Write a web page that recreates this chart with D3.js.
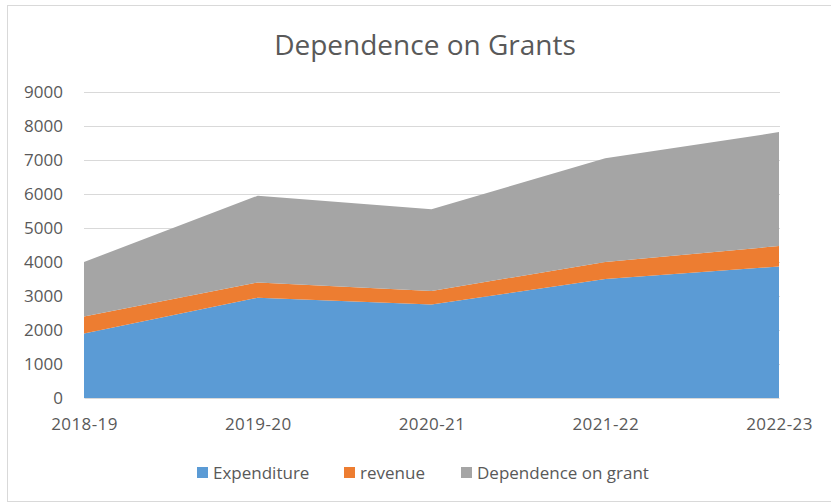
<!DOCTYPE html>
<html>
<head>
<meta charset="utf-8">
<script src="https://cdn.jsdelivr.net/npm/d3@7/dist/d3.min.js"></script>
<style>
  html, body { margin: 0; padding: 0; background: #fff; }
  svg { display: block; }
  text { font-family: "Open Sans", "Liberation Sans", sans-serif; fill: #595959; }
</style>
</head>
<body>
<svg id="chart" width="831" height="504"></svg>
<script>
// Fiscal years on the category axis
const years = ["2018-19", "2019-20", "2020-21", "2021-22", "2022-23"];

// Stacked series values
const expenditure = [1900, 2950, 2750, 3500, 3870];
const revenue = [500, 450, 400, 500, 600];
const grantDependence = [1600, 2550, 2400, 3050, 3350];

// Series names and legend labels
const seriesKeys = ["expenditure", "revenue", "grant"];
const seriesLabels = ["Expenditure", "revenue", "Dependence on grant"];
const seriesColors = ["#5B9BD5", "#ED7D31", "#A5A5A5"];

// Value axis ticks
const yTicks = [0, 1000, 2000, 3000, 4000, 5000, 6000, 7000, 8000, 9000];

const rows = years.map((y, i) => ({
  year: y,
  expenditure: expenditure[i],
  revenue: revenue[i],
  grant: grantDependence[i]
}));

const svg = d3.select("#chart");

// Outer chart frame
svg.append("rect")
  .attr("x", 7.5).attr("y", 5.5)
  .attr("width", 840).attr("height", 496)
  .attr("fill", "#fff")
  .attr("stroke", "#D9D9D9").attr("stroke-width", 1);

const plot = { left: 84, right: 779, top: 92, bottom: 398 };

const x = d3.scalePoint().domain(years).range([plot.left, plot.right]);
const y = d3.scaleLinear().domain([0, 9000]).range([plot.bottom, plot.top]);

// Horizontal gridlines
svg.append("g")
  .selectAll("line")
  .data(yTicks.filter(t => t > 0))
  .join("line")
  .attr("x1", plot.left).attr("x2", plot.right + 1)
  .attr("y1", d => Math.round(y(d)) + 0.5).attr("y2", d => Math.round(y(d)) + 0.5)
  .attr("stroke", "#D9D9D9").attr("stroke-width", 1);

// Stacked areas
const stack = d3.stack().keys(seriesKeys);
const layers = stack(rows);

const area = d3.area()
  .x(d => x(d.data.year))
  .y0(d => y(d[0]))
  .y1(d => y(d[1]));

svg.append("g")
  .selectAll("path")
  .data(layers)
  .join("path")
  .attr("d", area)
  .attr("fill", (d, i) => seriesColors[i]);

// Category axis
const xAxis = d3.axisBottom(x).tickSize(0).tickPadding(20);
const gx = svg.append("g")
  .attr("transform", `translate(0,${plot.bottom})`)
  .call(xAxis);
gx.select(".domain").attr("stroke", "#D9D9D9");
gx.selectAll("text")
  .style("font-size", "17px")
  .style("letter-spacing", "0.4px")
  .attr("fill", "#595959");

// Value axis labels
const yAxis = d3.axisLeft(y).tickValues(yTicks).tickSize(0).tickPadding(21)
  .tickFormat(d3.format("d"));
const gy = svg.append("g")
  .attr("transform", `translate(${plot.left},0)`)
  .call(yAxis);
gy.select(".domain").remove();
gy.selectAll("text")
  .style("font-size", "17px")
  .attr("fill", "#595959");

// Title
svg.append("text")
  .attr("x", 425).attr("y", 55)
  .attr("text-anchor", "middle")
  .style("font-size", "28px")
  .text("Dependence on Grants");

// Legend
const legendX = [197, 344, 461];
const legend = svg.append("g");
seriesLabels.forEach((label, i) => {
  legend.append("rect")
    .attr("x", legendX[i]).attr("y", 467)
    .attr("width", 11).attr("height", 11)
    .attr("fill", seriesColors[i]);
  legend.append("text")
    .attr("x", legendX[i] + 16).attr("y", 479)
    .style("font-size", "17px")
    .text(label);
});
</script>
</body>
</html>
